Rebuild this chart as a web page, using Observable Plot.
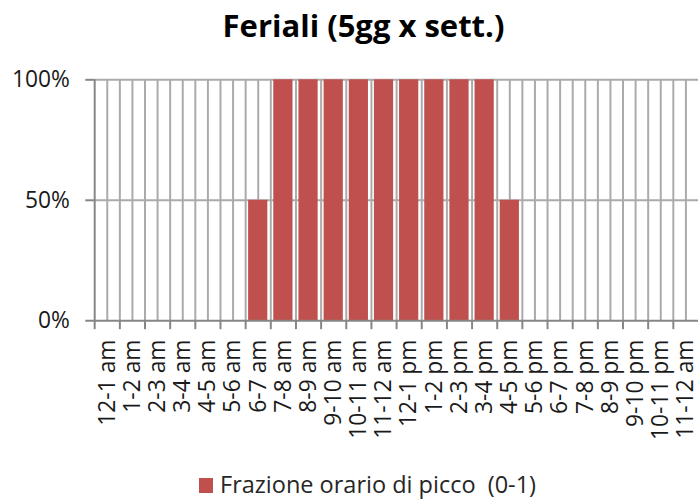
<!DOCTYPE html>
<html><head><meta charset="utf-8">
<script src="https://cdn.jsdelivr.net/npm/d3@7"></script>
<script src="https://cdn.jsdelivr.net/npm/@observablehq/plot@0.6"></script>
<style>
html,body{margin:0;padding:0;background:#fff;overflow:hidden;}
#wrap{position:relative;width:698px;height:499px;overflow:hidden;font-family:'Open Sans',sans-serif;}
#title{position:absolute;left:0;top:10px;width:727px;text-align:center;font-weight:700;font-size:31px;line-height:30px;color:#000;white-space:nowrap;}
#chart{position:absolute;left:0;top:0;}
#swatch{position:absolute;left:199px;top:478px;width:14px;height:15px;}
#legend{position:absolute;left:220px;top:473px;height:23px;line-height:23px;font-size:23.5px;color:#262626;white-space:pre;}
</style>
</head><body>
<div id="wrap">
  <div id="chart"></div>
  <div id="title"></div>
  <div id="swatch"></div>
  <div id="legend"></div>
</div>
<script>
const hours = ["12-1 am","1-2 am","2-3 am","3-4 am","4-5 am","5-6 am","6-7 am","7-8 am","8-9 am","9-10 am","10-11 am","11-12 am","12-1 pm","1-2 pm","2-3 pm","3-4 pm","4-5 pm","5-6 pm","6-7 pm","7-8 pm","8-9 pm","9-10 pm","10-11 pm","11-12 am"];
const peakFraction = [0,0,0,0,0,0,0.5,1,1,1,1,1,1,1,1,1,0.5,0,0,0,0,0,0,0];
const yTicks = [0, 0.5, 1];
const seriesName = "Frazione orario di picco  (0-1)";
const titleText = "Feriali (5gg x sett.)";
const barColor = "#C0504D";

document.getElementById("title").textContent = titleText;
document.getElementById("legend").textContent = seriesName;
document.getElementById("swatch").style.background = barColor;

const idx = d3.range(hours.length);
const gridColor = "#aaaaaa";
const axisColor = "#868686";
const textColor = "#1a1a1a";

const chart = Plot.plot({
  width: 704, height: 499,
  marginLeft: 95, marginRight: 0, marginTop: 80, marginBottom: 176,
  x: {type: "linear", domain: [0, hours.length], axis: null},
  y: {domain: [0, 1], axis: null},
  style: {fontFamily: "'Open Sans', sans-serif", fontSize: "23px", background: "transparent", overflow: "visible"},
  marks: [
    Plot.ruleY(yTicks.filter(d => d > 0), {y: d => d, stroke: gridColor, strokeWidth: 2}),
    Plot.ruleX(idx.slice(1), {x: d => d, y1: 0, y2: 1, stroke: gridColor, strokeWidth: 2}),
    Plot.ruleX(idx, {x: d => d + 0.5, y1: 0, y2: 1, stroke: gridColor, strokeWidth: 2}),
    Plot.rectY(idx, {x1: d => d, x2: d => d + 1, y1: 0, y2: d => peakFraction[d], fill: barColor, insetLeft: 3, insetRight: 3}),
    Plot.ruleX([0], {x: d => d, y1: 0, y2: 1, stroke: axisColor, strokeWidth: 2}),
    Plot.ruleY([0], {y: d => d, stroke: axisColor, strokeWidth: 2}),
    Plot.axisY({anchor: "left", ticks: yTicks, tickFormat: d3.format(".0%"), tickSize: 9, tickPadding: 16, stroke: axisColor, strokeWidth: 2, fill: textColor}),
    Plot.axisX({anchor: "bottom", ticks: idx, tickSize: 9, tickFormat: () => "", stroke: axisColor, strokeWidth: 2}),
    Plot.axisX({anchor: "bottom", ticks: idx.map(d => d + 0.5), tickSize: 0, tickPadding: 19, tickRotate: -90, tickFormat: d => hours[Math.floor(d)], fill: textColor})
  ]
});
document.getElementById("chart").appendChild(chart);
</script>
</body></html>
